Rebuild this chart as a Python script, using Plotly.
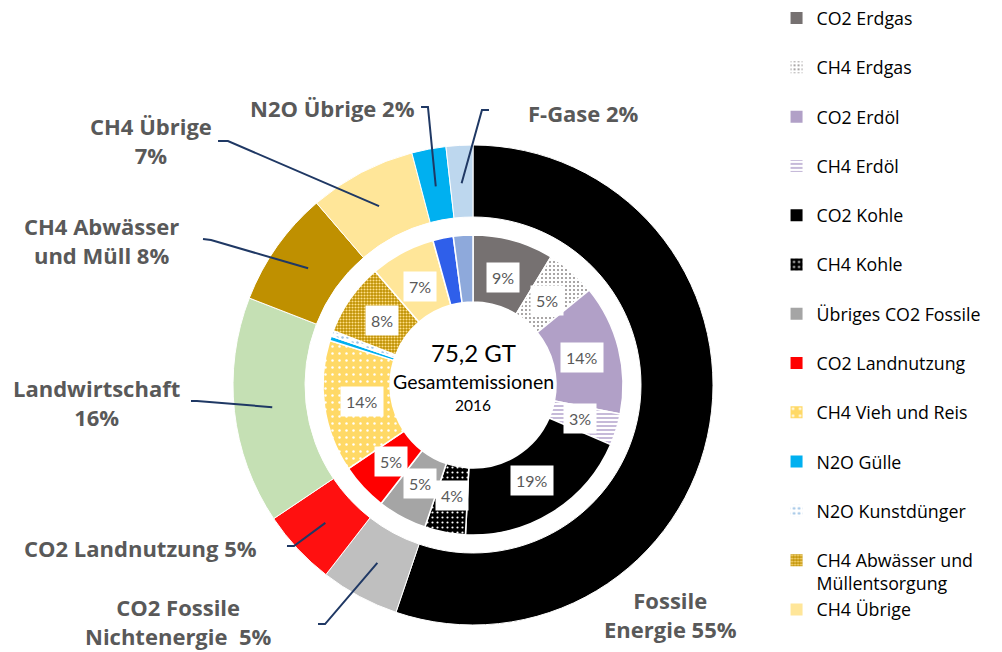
import math

import plotly.graph_objects as go

# --- data --------------------------------------------------------------------
outer_labels = [
    "Fossile Energie",
    "CO2 Fossile Nichtenergie",
    "CO2 Landnutzung",
    "Landwirtschaft",
    "CH4 Abwässer und Müll",
    "CH4 Übrige",
    "N2O Übrige",
    "F-Gase",
]
outer_values = [55.2, 5.3, 5.1, 15.3, 7.8, 7.2, 2.3, 1.8]
outer_texts = [
    "Fossile<br>Energie 55%",
    "CO2 Fossile<br>Nichtenergie  5%",
    "CO2 Landnutzung 5%",
    "Landwirtschaft<br>16%",
    "CH4 Abwässer<br>und Müll 8%",
    "CH4 Übrige<br>7%",
    "N2O Übrige 2%",
    "F-Gase 2%",
]
outer_colors = ["#000000", "#BFBFBF", "#FF1010", "#C5E0B4", "#BF9000", "#FFE699", "#00B0F0", "#BDD7EE"]

inner_labels = [
    "CO2 Erdgas",
    "CH4 Erdgas",
    "CO2 Erdöl",
    "CH4 Erdöl",
    "CO2 Kohle",
    "CH4 Kohle",
    "Übriges CO2 Fossile",
    "CO2 Landnutzung",
    "CH4 Vieh und Reis",
    "N2O Gülle",
    "N2O Kunstdünger",
    "CH4 Abwässer und Müllentsorgung",
    "CH4 Übrige",
    "N2O Übrige",
    "F-Gase",
]
inner_values = [8.7, 5.4, 14.0, 3.4, 19.3, 4.4, 5.3, 5.1, 14.2, 0.5, 0.6, 7.8, 7.0, 2.2, 2.1]
inner_colors = ["#767171", "#FFFFFF", "#B1A0C7", "#FFFFFF", "#000000", "#000000", "#A5A5A5",
                "#FF0000", "#FFD966", "#00B0F0", "#FFFFFF", "#BF9000", "#FFE699", "#2F5FEA", "#8EA9DB"]
inner_shapes = ["", ".", "", "-", "", ".", "", "", ".", "", ".", ".", "", "", ""]
inner_fg = ["#767171", "#8C8888", "#B1A0C7", "#A08CC0", "#000000", "#FFFFFF", "#A5A5A5",
            "#FF0000", "#FFFFFF", "#00B0F0", "#9DC3E6", "#FFE08A", "#FFE699", "#2F5FEA", "#8EA9DB"]
inner_psize = [8, 4, 8, 4, 8, 5, 8, 8, 7, 8, 5, 3, 8, 8, 8]
inner_psolid = [0.3, 0.2, 0.3, 0.3, 0.3, 0.15, 0.3, 0.3, 0.1, 0.3, 0.2, 0.4, 0.3, 0.3, 0.3]

# legend shows only the first 13 inner categories
legend_names = [
    "CO2 Erdgas", "CH4 Erdgas", "CO2 Erdöl", "CH4 Erdöl", "CO2 Kohle", "CH4 Kohle",
    "Übriges CO2 Fossile", "CO2 Landnutzung", "CH4 Vieh und Reis", "N2O Gülle",
    "N2O Kunstdünger", "CH4 Abwässer und<br>Müllentsorgung", "CH4 Übrige",
]

total_text = "75,2 GT"
subtitle_text = "Gesamtemissionen"
year_text = "2016"

# --- geometry (pixels) -------------------------------------------------------
W, H = 1002, 652
CX, CY = 473, 385
R_OUT, R_IN = 240, 150
LABEL_GREY = "#595959"
LINE_COLOR = "#1F3864"


def px(x, y):
    return x / W, 1 - y / H


def domain(r):
    return dict(x=[(CX - r) / W, (CX + r) / W], y=[1 - (CY + r) / H, 1 - (CY - r) / H])


def mid_point(values, i, r):
    tot = sum(values)
    a = (sum(values[:i]) + values[i] / 2) / tot * 2 * math.pi
    return CX + r * math.sin(a), CY - r * math.cos(a)


fig = go.Figure()

fig.add_trace(go.Pie(
    labels=outer_labels, values=outer_values, hole=168 / R_OUT, sort=False,
    direction="clockwise", rotation=0, textinfo="none", showlegend=False,
    marker=dict(colors=outer_colors, line=dict(color="white", width=1)),
    domain=domain(R_OUT),
))

fig.add_trace(go.Pie(
    labels=inner_labels, values=inner_values, hole=83 / R_IN, sort=False,
    direction="clockwise", rotation=0, textinfo="none", showlegend=False,
    marker=dict(
        colors=inner_colors, line=dict(color="white", width=1.5),
        pattern=dict(shape=inner_shapes, fgcolor=inner_fg, bgcolor=inner_colors,
                     size=inner_psize, solidity=inner_psolid, fillmode="replace"),
    ),
    domain=domain(R_IN),
))

# legend-only pie, hidden under the legend box
n = len(legend_names)
legend_text = [s if ("<br>" in s or k == n - 1) else s + "<br>\u00a0"
               for k, s in enumerate(legend_names)]
fig.add_trace(go.Pie(
    labels=legend_text,
    values=inner_values[:n], sort=False, textinfo="none", hoverinfo="skip",
    marker=dict(
        colors=inner_colors[:n], line=dict(color="white", width=0),
        pattern=dict(shape=inner_shapes[:n], fgcolor=inner_fg[:n], bgcolor=inner_colors[:n],
                     size=inner_psize[:n], solidity=inner_psolid[:n], fillmode="replace"),
    ),
    domain=dict(x=[0.9, 0.901], y=[0.5, 0.501]),
))

annotations = []
# percentage boxes on the inner ring
for i, v in enumerate(inner_values):
    if v < 3:
        continue
    x, y = mid_point(inner_values, i, 112)
    xp, yp = px(x, y)
    annotations.append(dict(
        x=xp, y=yp, xref="paper", yref="paper", xanchor="center", yanchor="middle",
        text=f"{round(v)}%", showarrow=False,
        font=dict(family="Lato", size=16, color=LABEL_GREY), bgcolor="white", borderpad=5,
    ))

# centre text
for txt, y, size in [(total_text, 352, 24), (subtitle_text, 382, 19.5), (year_text, 405, 15.5)]:
    xp, yp = px(CX, y)
    annotations.append(dict(x=xp, y=yp, xref="paper", yref="paper", xanchor="center",
                            yanchor="middle", text=txt, showarrow=False,
                            font=dict(family="Lato", size=size, color="#000000")))

# outer labels with leader lines: label centre, elbow start, elbow end
label_pos = [
    (670, 614, None),
    (178, 621, ((318, 624), (325, 624))),
    (140, 548, ((287, 546), (294, 546))),
    (96, 402, ((191, 401), (197, 401))),
    (101, 241, ((203, 239), (211, 240))),
    (151, 141, ((218, 141), (228, 141))),
    (332, 108, ((421, 107), (428, 107))),
    (583, 113, ((489, 110), (482, 110))),
]
shapes = []
for i, (lx, ly, elbow) in enumerate(label_pos):
    xp, yp = px(lx, ly)
    annotations.append(dict(
        x=xp, y=yp, xref="paper", yref="paper", xanchor="center", yanchor="middle",
        text=f"<b>{outer_texts[i]}</b>", showarrow=False,
        font=dict(family="Open Sans", size=22, color=LABEL_GREY),
    ))
    if elbow is None:
        continue
    ex, ey = mid_point(outer_values, i, 202)
    pts = [px(*elbow[0]), px(*elbow[1]), px(ex, ey)]
    path = "M " + " L ".join(f"{a:.4f},{b:.4f}" for a, b in pts)
    shapes.append(dict(type="path", path=path, xref="paper", yref="paper",
                       line=dict(color=LINE_COLOR, width=2)))

fig.update_layout(
    width=W, height=H, margin=dict(l=0, r=0, t=0, b=0, autoexpand=False),
    paper_bgcolor="white", plot_bgcolor="white",
    annotations=annotations, shapes=shapes,
    legend=dict(x=0.775, y=1.0, xanchor="left", yanchor="top", valign="top",
                font=dict(family="Open Sans", size=17.8, color="#000000"),
                bgcolor="white", borderwidth=0, itemclick=False, itemdoubleclick=False),
)

fig.write_html("out.html", config={"displayModeBar": False},
               post_script="document.body.style.margin = '0';")
